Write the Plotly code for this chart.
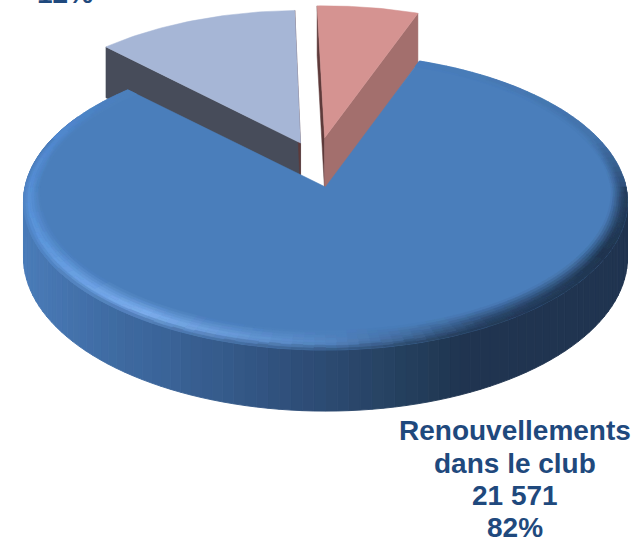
import numpy as np
import plotly.graph_objects as go

# --- data ---
categories = ["Renouvellements", "dans le club"]
values = [21571, 3157, 1578]
percents = [82, 12, 6]
start_angle = 20.0  # degrees clockwise from the back of the pie

# --- 3D pie view: (perspective, vertical scale) for the main slice and the pulled-out ones ---
CX, CY, SX, DEPTH = 325.5, 187.0, 300.5, 55.0
VIEW = {0: (0.10, 146.7), 1: (0.08, 150.0), 2: (0.08, 150.0)}
TOP = {0: "#4A7EBB", 1: "#A6B6D6", 2: "#D59391"}
EXPLODE = {0: (0.0, 0.0), 1: (-0.085, 0.30), 2: (-0.003, 0.337)}
WALL_RIGHT = {1: "#5E3A3A", 2: "#A36F6D"}
WALL_LEFT = {1: "#474C5A", 2: "#5E3A3A"}
TEXT_COLOR = "#1F497D"


def hex2rgb(h):
    return np.array([int(h[i:i + 2], 16) for i in (1, 3, 5)], float)


def ramp(v, stops):
    xs = [s[0] for s in stops]
    cs = np.array([hex2rgb(s[1]) for s in stops])
    return np.array([np.interp(v, xs, cs[:, i]) for i in range(3)])


def css(rgb, step=3):
    q = np.clip(np.round(np.asarray(rgb) / step) * step, 0, 255).astype(int)
    return "rgb(%d,%d,%d)" % tuple(q)


WALL_STOPS = [(24, "#4A7BB8"), (100, "#406DA5"), (200, "#375E90"), (300, "#2E4E78"),
              (400, "#25405F"), (460, "#1F3550"), (637, "#1F3550")]
RIM_STOPS = [(20, "#4A7EBB"), (70, "#4272AA"), (95, "#2A466B"), (115, "#1F3550"), (150, "#2A466B"),
             (180, "#5688C4"), (215, "#80B2F2"), (250, "#5E98DE"), (290, "#5189D0"), (315, "#4A7EBB")]


def project(theta_deg, r=1.0, off=(0.0, 0.0), z=0.0, view=0):
    c, sy = VIEW[view]
    t = np.radians(theta_deg)
    X = r * np.sin(t) + off[0]
    Y = r * np.cos(t) + off[1]
    w = 1 + c * Y
    return CX + SX * X / w, CY - sy * Y / w + z * DEPTH / w


fig = go.Figure()


def poly(color, xs, ys, width=0.5):
    fig.add_trace(go.Scatter(x=list(xs) + [xs[0]], y=list(ys) + [ys[0]], mode="lines", fill="toself",
                             fillcolor=color, line=dict(color=color, width=width),
                             hoverinfo="skip", showlegend=False))


spans = np.array(values, float) / sum(values) * 360
starts = start_angle + np.concatenate([[0], np.cumsum(spans)[:-1]])

# exploded slices first: radial walls, then top faces
for i in (1, 2):
    a0, a1 = starts[i], starts[i] + spans[i]
    off = EXPLODE[i]
    for ang, col in ((a0, WALL_LEFT[i]), (a1, WALL_RIGHT[i])):
        ax, ay = project(0, 0, off, 0, i)
        bx, by = project(0, 0, off, 1, i)
        ox, oy = project(ang, 1, off, 0, i)
        px, py = project(ang, 1, off, 1, i)
        poly(col, [ax, ox, px, bx], [ay, oy, py, by])
    th = np.linspace(a0, a1, 40)
    x, y = project(th, 1, off, 0, i)
    ax, ay = project(0, 0, off, 0, i)
    poly(TOP[i], list(np.r_[ax, x]), list(np.r_[ay, y]))

a0, a1 = starts[0], starts[0] + spans[0]
edges = np.arange(a0, a1 + 2, 2.0)
edges[-1] = a1

# main slice: outer wall
for t0, t1 in zip(edges[:-1], edges[1:]):
    if not (85 < (t0 + t1) / 2 < 300):
        continue
    x0, y0 = project(t0)
    x1, y1 = project(t1)
    x2, y2 = project(t1, 1, (0, 0), 1)
    x3, y3 = project(t0, 1, (0, 0), 1)
    col = css(ramp((x0 + x1) / 2, WALL_STOPS), 2)
    poly(col, [x0, x1, x2, x3], [y0, y1, y2, y3], 0.9)

# main slice: top face
th = np.linspace(a0, a1, 240)
x, y = project(th)
poly(TOP[0], list(np.r_[CX, x]), list(np.r_[CY, y]))

# main slice: bevelled rim, grouped by colour
groups = {}
fracs = np.linspace(0, 1, 9)
top_rgb = hex2rgb(TOP[0])


def inner(t):
    return 0.05 + 0.06 * max(0.0, -np.cos(np.radians(t)))


for q0, q1 in zip(fracs[:-1], fracs[1:]):
    qm = (q0 + q1) / 2
    f = min(1.0, qm / 0.65)
    g = max(0.0, (qm - 0.65) / 0.35)
    for t0, t1 in zip(edges[:-1], edges[1:]):
        tm = (t0 + t1) / 2
        c = top_rgb + (ramp(tm, RIM_STOPS) - top_rgb) * f
        if 90 < tm < 290:
            xm, _ = project(tm)
            c = c + (ramp(xm, WALL_STOPS) - c) * g * 0.8
        r00 = 1 - inner(t0) * (1 - q0)
        r01 = 1 - inner(t1) * (1 - q0)
        r11 = 1 - inner(t1) * (1 - q1)
        r10 = 1 - inner(t0) * (1 - q1)
        xa, ya = project(t0, r00)
        xb, yb = project(t1, r01)
        xc, yc = project(t1, r11)
        xd, yd = project(t0, r10)
        px, py = groups.setdefault(css(c, 4), ([], []))
        px.extend([xa, xb, xc, xd, xa, None])
        py.extend([ya, yb, yc, yd, ya, None])

for col, (px, py) in groups.items():
    fig.add_trace(go.Scatter(x=px, y=py, mode="lines", fill="toself", fillcolor=col,
                             line=dict(color=col, width=0.6), hoverinfo="skip", showlegend=False))


def num(v):
    return f"{v:,}".replace(",", " ")


FONT = dict(family="Liberation Sans, Arial, sans-serif", size=28, color=TEXT_COLOR)
lines = [categories[0], categories[1], num(values[0]), f"{percents[0]}%"]
for txt, yc in zip(lines, [430, 463, 495, 527]):
    fig.add_annotation(x=514.5, y=yc, xref="x", yref="y", xanchor="center", yanchor="middle",
                       text=f"<b>{txt}</b>", showarrow=False, font=FONT)
fig.add_annotation(x=65, y=0, yshift=7, xref="x", yref="y", xanchor="center", yanchor="middle",
                   text=f"<b>{percents[1]}%</b>", showarrow=False, font=FONT)

fig.update_layout(width=637, height=539, autosize=False, margin=dict(l=0, r=0, t=0, b=0),
                  paper_bgcolor="white", plot_bgcolor="white", showlegend=False,
                  xaxis=dict(range=[0, 637], visible=False, fixedrange=True),
                  yaxis=dict(range=[539, 0], visible=False, fixedrange=True))
fig.write_html("out.html", config=dict(displayModeBar=False),
               post_script="document.body.style.margin='0';document.documentElement.style.overflow='hidden';")
